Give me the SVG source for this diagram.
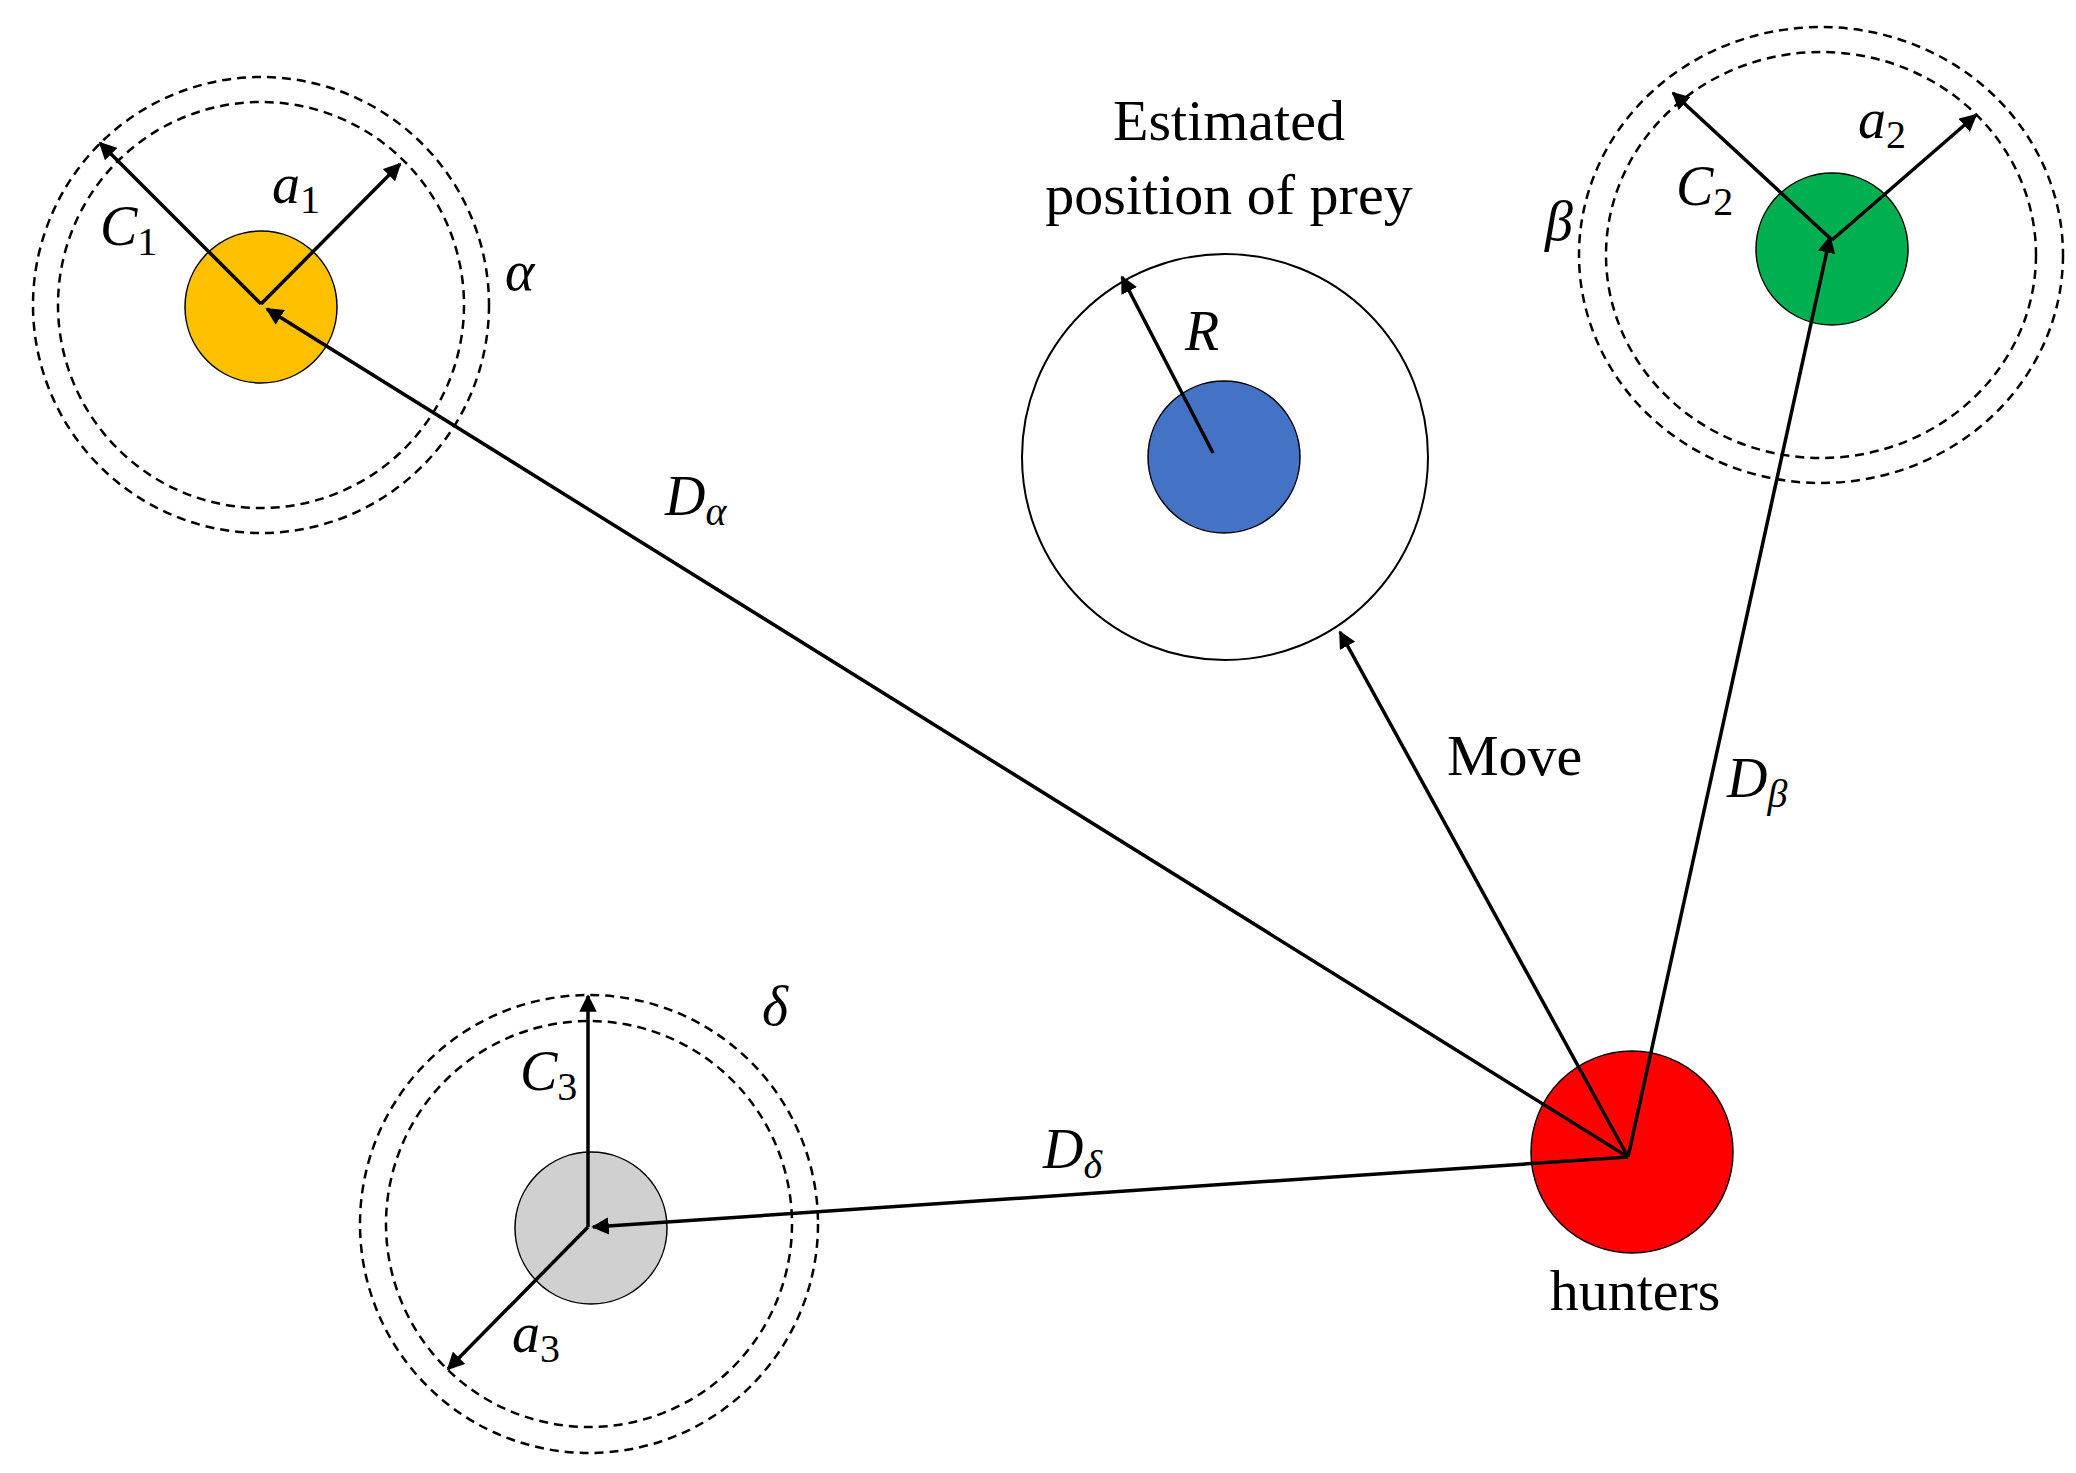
<svg xmlns="http://www.w3.org/2000/svg" width="2076" height="1473" viewBox="0 0 2076 1473">
<style>
.d{fill:none;stroke:#000;stroke-width:2.5;stroke-dasharray:9 6}
.n{stroke:#000;stroke-width:1.5}
.c{stroke:#000;stroke-width:3.5;fill:none;marker-end:url(#ah)}
.m{font-family:"Liberation Serif",serif;font-style:italic;font-size:56px;fill:#000}
.s{font-size:40px}
.u{font-size:40px;font-style:normal}
.t{font-family:"Liberation Serif",serif;font-size:58px;fill:#000;text-anchor:middle}
</style>
<defs><marker id="ah" viewBox="0 0 10 10" refX="9" refY="5" markerWidth="5" markerHeight="5" orient="auto" markerUnits="strokeWidth"><path d="M0,0 L10,5 L0,10 z" fill="#000"/></marker></defs>
<rect width="2076" height="1473" fill="#fff"/>
<g id="alpha"><circle cx="261" cy="305" r="228" class="d"/><circle cx="261" cy="305" r="203" class="d"/><circle cx="261" cy="307" r="76" fill="#FFC000" class="n"/>
<text x="505" y="290" class="m">α</text><text x="100" y="245" class="m">C<tspan class="u" dy="10">1</tspan></text><text x="272" y="203" class="m">a<tspan class="u" dy="10">1</tspan></text></g>
<g id="beta"><ellipse cx="1821" cy="255" rx="242" ry="228" class="d"/><ellipse cx="1821" cy="255" rx="215" ry="203" class="d"/><circle cx="1832" cy="249" r="76" fill="#00B050" class="n"/>
<text x="1545" y="240" class="m">β</text><text x="1676" y="205" class="m">C<tspan class="u" dy="10">2</tspan></text><text x="1858" y="138" class="m">a<tspan class="u" dy="10">2</tspan></text></g>
<g id="prey"><circle cx="1225" cy="457" r="203" fill="none" stroke="#000" stroke-width="2"/><circle cx="1224" cy="457" r="76" fill="#4472C4" class="n"/>
<text x="1185" y="350" class="m">R</text><text x="1229" y="140" class="t">Estimated</text><text x="1229" y="214" class="t">position of prey</text></g>
<g id="delta"><circle cx="589" cy="1224" r="229" class="d"/><circle cx="589" cy="1224" r="203" class="d"/><circle cx="591" cy="1228" r="76" fill="#D0D0D0" class="n"/>
<text x="762" y="1025" class="m">δ</text><text x="520" y="1090" class="m">C<tspan class="u" dy="10">3</tspan></text><text x="512" y="1352" class="m">a<tspan class="u" dy="10">3</tspan></text></g>
<g id="hunters"><circle cx="1632" cy="1152" r="101" fill="#FF0000" class="n"/><text x="1635" y="1310" class="t">hunters</text></g>
<g id="connectors">
<line x1="1628" y1="1157" x2="267" y2="309" class="c"/>
<line x1="1628" y1="1157" x2="1830" y2="237" class="c"/>
<line x1="1628" y1="1157" x2="1340" y2="632" class="c"/>
<line x1="1628" y1="1157" x2="593" y2="1227" class="c"/>
<line x1="261" y1="304" x2="100" y2="143" class="c"/>
<line x1="261" y1="304" x2="400" y2="164" class="c"/>
<line x1="1832" y1="240" x2="1673" y2="93" class="c"/>
<line x1="1832" y1="240" x2="1976" y2="115" class="c"/>
<line x1="1213" y1="453" x2="1122" y2="277" class="c"/>
<line x1="588" y1="1227" x2="588" y2="996" class="c"/>
<line x1="588" y1="1227" x2="448" y2="1369" class="c"/>
<text x="665" y="515" class="m">D<tspan class="s" dy="10">α</tspan></text>
<text x="1447" y="775" class="t" style="text-anchor:start">Move</text>
<text x="1727" y="797" class="m">D<tspan class="s" dy="10">β</tspan></text>
<text x="1043" y="1168" class="m">D<tspan class="s" dy="10">δ</tspan></text>
</g>
</svg>
